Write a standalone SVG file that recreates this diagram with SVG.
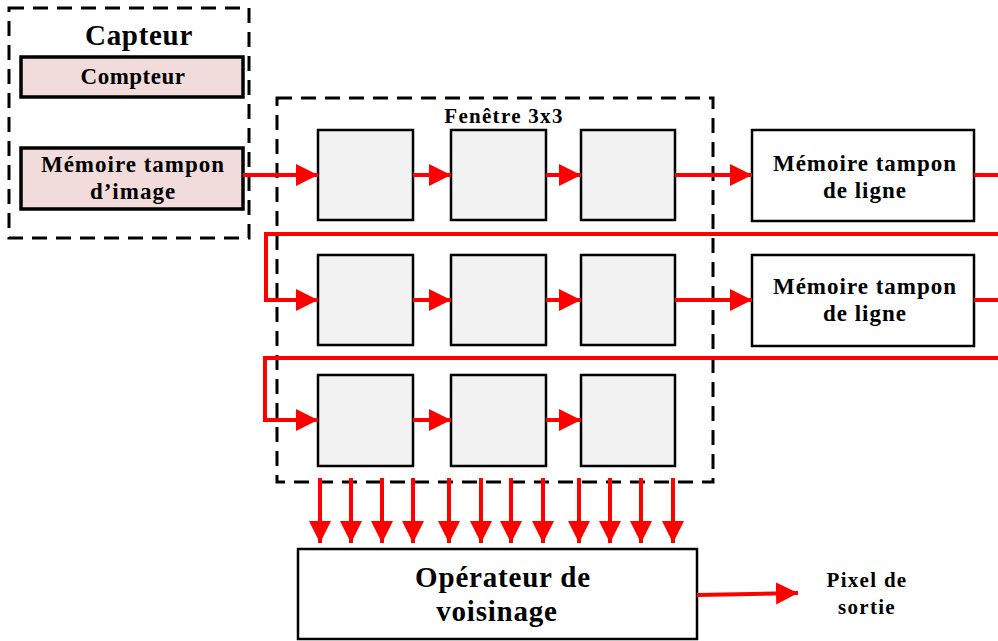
<svg xmlns="http://www.w3.org/2000/svg" width="998" height="641" viewBox="0 0 998 641">
<defs>
<style>
.dash{fill:none;stroke:#000;stroke-width:3;stroke-dasharray:15,9}
.pink{fill:#f2dcdb;stroke:#000;stroke-width:3.5}
.sq{fill:#f2f2f2;stroke:#000;stroke-width:2.5}
.box{fill:#fff;stroke:#000;stroke-width:2.5}
.r{fill:none;stroke:#ff0000;stroke-width:4}
.t{font-family:"Liberation Serif",serif;font-weight:bold;fill:#000;text-anchor:middle}
.m{font-size:23px;letter-spacing:1px}
</style>
<marker id="ah" viewBox="0 0 10 10" refX="10" refY="5" markerWidth="5.5" markerHeight="6" markerUnits="strokeWidth" orient="auto">
<path d="M0,0 L10,5 L0,10 Z" fill="#ff0000"/>
</marker>
</defs>
<rect width="998" height="641" fill="#fff"/>
<g id="capteur">
<rect class="dash" x="9" y="8" width="240" height="230"/>
<text class="t" x="139" y="45" font-size="29" letter-spacing="0.7">Capteur</text>
</g>
<g id="compteur">
<rect class="pink" x="21" y="57" width="222" height="40"/>
<text class="t" x="133" y="84" font-size="23" letter-spacing="0.5">Compteur</text>
</g>
<g id="memoire-image">
<rect class="pink" x="21" y="148" width="222" height="61"/>
<text class="t m" x="133" y="172">Mémoire tampon</text>
<text class="t m" x="133" y="199">d’image</text>
</g>
<g id="fenetre">
<rect class="dash" x="277" y="98" width="436" height="384"/>
<text class="t" x="504" y="123" font-size="21" letter-spacing="1.3">Fenêtre 3x3</text>
</g>
<g id="p11"><rect class="sq" x="318" y="130" width="95" height="90"/></g>
<g id="p12"><rect class="sq" x="451" y="130" width="95" height="90"/></g>
<g id="p13"><rect class="sq" x="581" y="130" width="94" height="90"/></g>
<g id="p21"><rect class="sq" x="318" y="255" width="95" height="90"/></g>
<g id="p22"><rect class="sq" x="451" y="255" width="95" height="90"/></g>
<g id="p23"><rect class="sq" x="581" y="255" width="94" height="90"/></g>
<g id="p31"><rect class="sq" x="318" y="375" width="95" height="91"/></g>
<g id="p32"><rect class="sq" x="451" y="375" width="95" height="91"/></g>
<g id="p33"><rect class="sq" x="581" y="375" width="94" height="91"/></g>
<g id="ligne1">
<rect class="box" x="752" y="130" width="222" height="91"/>
<text class="t m" x="865" y="171">Mémoire tampon</text>
<text class="t m" x="865" y="198">de ligne</text>
</g>
<g id="ligne2">
<rect class="box" x="752" y="255" width="222" height="91"/>
<text class="t m" x="865" y="294">Mémoire tampon</text>
<text class="t m" x="865" y="321">de ligne</text>
</g>
<g id="operateur">
<rect class="box" x="298" y="549" width="399" height="90"/>
<text class="t" x="503" y="587" font-size="29" letter-spacing="0.8">Opérateur de</text>
<text class="t" x="497" y="621" font-size="29" letter-spacing="0.8">voisinage</text>
</g>
<g id="sortie">
<text class="t" x="867" y="587" font-size="21" letter-spacing="1.3">Pixel de</text>
<text class="t" x="867" y="614" font-size="21" letter-spacing="1.3">sortie</text>
</g>
<g id="connectors">
<line class="r" x1="243" y1="175" x2="318" y2="175" marker-end="url(#ah)"/>
<line class="r" x1="413" y1="175" x2="451" y2="175" marker-end="url(#ah)"/>
<line class="r" x1="546" y1="175" x2="581" y2="175" marker-end="url(#ah)"/>
<line class="r" x1="675" y1="175" x2="752" y2="175" marker-end="url(#ah)"/>
<line class="r" x1="974" y1="175" x2="998" y2="175"/>
<polyline class="r" points="998,234 266,234 266,300 318,300" marker-end="url(#ah)"/>
<line class="r" x1="413" y1="300" x2="451" y2="300" marker-end="url(#ah)"/>
<line class="r" x1="546" y1="300" x2="581" y2="300" marker-end="url(#ah)"/>
<line class="r" x1="675" y1="300" x2="752" y2="300" marker-end="url(#ah)"/>
<line class="r" x1="974" y1="300" x2="998" y2="300"/>
<polyline class="r" points="998,358 265,358 265,420 318,420" marker-end="url(#ah)"/>
<line class="r" x1="413" y1="420" x2="451" y2="420" marker-end="url(#ah)"/>
<line class="r" x1="546" y1="420" x2="581" y2="420" marker-end="url(#ah)"/>
<line class="r" x1="320" y1="478" x2="320" y2="543" marker-end="url(#ah)"/>
<line class="r" x1="351" y1="478" x2="351" y2="543" marker-end="url(#ah)"/>
<line class="r" x1="382" y1="478" x2="382" y2="543" marker-end="url(#ah)"/>
<line class="r" x1="413" y1="478" x2="413" y2="543" marker-end="url(#ah)"/>
<line class="r" x1="449" y1="478" x2="449" y2="543" marker-end="url(#ah)"/>
<line class="r" x1="481" y1="478" x2="481" y2="543" marker-end="url(#ah)"/>
<line class="r" x1="511" y1="478" x2="511" y2="543" marker-end="url(#ah)"/>
<line class="r" x1="543" y1="478" x2="543" y2="543" marker-end="url(#ah)"/>
<line class="r" x1="579" y1="478" x2="579" y2="543" marker-end="url(#ah)"/>
<line class="r" x1="610" y1="478" x2="610" y2="543" marker-end="url(#ah)"/>
<line class="r" x1="641" y1="478" x2="641" y2="543" marker-end="url(#ah)"/>
<line class="r" x1="673" y1="478" x2="673" y2="543" marker-end="url(#ah)"/>
<line class="r" x1="697" y1="595" x2="798" y2="593" marker-end="url(#ah)"/>
</g>
</svg>
